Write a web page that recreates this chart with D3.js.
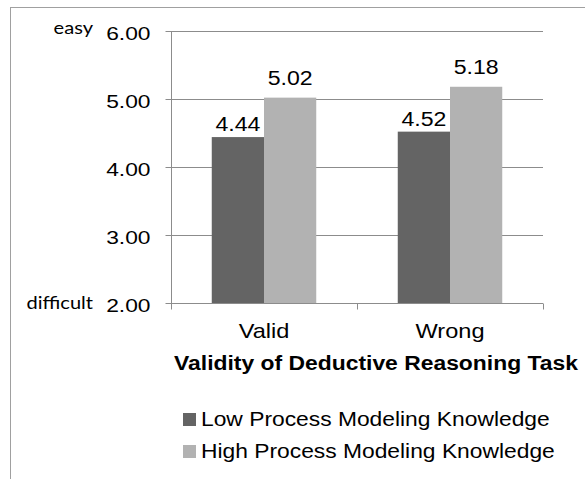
<!DOCTYPE html>
<html>
<head>
<meta charset="utf-8">
<script src="https://cdn.jsdelivr.net/npm/d3@7"></script>
<style>
  body { margin: 0; background: #fff; }
  text { font-family: "Liberation Sans", Arial, sans-serif; fill: #000; }
</style>
</head>
<body>
<script>
// data
var categories = ["Valid", "Wrong"];
var series = ["Low Process Modeling Knowledge", "High Process Modeling Knowledge"];
var lowValues = [4.44, 4.52];
var highValues = [5.02, 5.18];
var yTicks = [2, 3, 4, 5, 6];
var seriesColors = ["#646464", "#b2b2b2"];
var labelGap = [6, 13]; //value label distance above bar, per series

var width = 585, height = 479;
var svg = d3.select("body").append("svg")
    .attr("width", width)
    .attr("height", height);

//the source picture is a bit wider than tall, so text gets stretched sideways
function stretchText(sel, x, y, sx){
    return sel.attr("transform", "translate(" + x + "," + y + ") scale(" + sx + ",1)");
}

// outer chart frame (runs past the picture on right and bottom)
svg.append("rect")
    .attr("x", 10.5).attr("y", 7.5)
    .attr("width", 700).attr("height", 600)
    .attr("fill", "none")
    .attr("stroke", "#a0a0a0")
    .attr("stroke-width", 1);

var plotLeft = 171, plotRight = 543, plotTop = 31, plotBottom = 303;

var x = d3.scaleBand().domain(categories).range([plotLeft, plotRight]);
var y = d3.scaleLinear().domain([2, 6]).range([plotBottom, plotTop]);
var sub = d3.scaleBand().domain([0, 1]).range([0, x.bandwidth()]).paddingInner(0).paddingOuter(0.78);

// gridlines
svg.selectAll(".grid")
    .data(yTicks.filter(function(d){ return d > 2; }))
    .enter().append("line")
    .attr("class", "grid")
    .attr("x1", plotLeft).attr("x2", plotRight)
    .attr("y1", function(d){ return Math.round(y(d)) + 0.5; })
    .attr("y2", function(d){ return Math.round(y(d)) + 0.5; })
    .attr("stroke", "#8c8c8c");

// y axis
var yAxis = svg.append("g")
    .attr("transform", "translate(" + (plotLeft + 0.5) + ",0)")
    .call(d3.axisLeft(y).tickValues(yTicks).tickFormat(d3.format(".2f")).tickSize(6).offset(0.5));
yAxis.selectAll("line, path").attr("stroke", "#8c8c8c");
yAxis.select("path").attr("d", "M0," + plotTop + "V" + (plotBottom + 6));
yAxis.selectAll("text").remove();
yAxis.selectAll(".tick").append("text")
    .attr("text-anchor", "end")
    .style("font-size", "19px")
    .each(function(d){ stretchText(d3.select(this), -21, 8, 1.2); })
    .text(function(d){ return d3.format(".2f")(d); });

// bars
var barData = [];
categories.forEach(function(c, i){
    barData.push({cat: c, s: 0, v: lowValues[i]});
    barData.push({cat: c, s: 1, v: highValues[i]});
});
svg.selectAll(".bar")
    .data(barData)
    .enter().append("rect")
    .attr("class", "bar")
    .attr("x", function(d){ return x(d.cat) + sub(d.s); })
    .attr("width", sub.bandwidth())
    .attr("y", function(d){ return y(d.v); })
    .attr("height", function(d){ return y(2) - y(d.v); })
    .attr("fill", function(d){ return seriesColors[d.s]; });

svg.selectAll(".val")
    .data(barData)
    .enter().append("text")
    .attr("class", "val")
    .attr("text-anchor", "middle")
    .style("font-size", "21px")
    .each(function(d){
        stretchText(d3.select(this), x(d.cat) + sub(d.s) + sub.bandwidth() / 2, y(d.v) - labelGap[d.s], 1.1);
    })
    .text(function(d){ return d.v.toFixed(2); });

// x axis
var xAxis = svg.append("g")
    .attr("transform", "translate(0," + (plotBottom + 0.5) + ")");
xAxis.append("line").attr("x1", plotLeft).attr("x2", plotRight).attr("stroke", "#8c8c8c");
xAxis.selectAll(".tk")
    .data([plotLeft, x("Wrong"), plotRight])
    .enter().append("line")
    .attr("x1", function(d){ return d + 0.5; }).attr("x2", function(d){ return d + 0.5; })
    .attr("y1", 0).attr("y2", 6)
    .attr("stroke", "#8c8c8c");
svg.selectAll(".cat")
    .data(categories)
    .enter().append("text")
    .attr("class", "cat")
    .attr("text-anchor", "middle")
    .style("font-size", "20.5px")
    .each(function(d){ stretchText(d3.select(this), x(d) + x.bandwidth() / 2, 338, 1.15); })
    .text(function(d){ return d; });

stretchText(svg.append("text"), 376, 370, 1.09)
    .attr("text-anchor", "middle")
    .style("font-size", "21px").style("font-weight", "bold")
    .text("Validity of Deductive Reasoning Task");

// easy / difficult labels
stretchText(svg.append("text"), 93, 34, 1.18).attr("text-anchor", "end")
    .style("font-family", "Lato, 'Open Sans', sans-serif").style("font-size", "17px").text("easy");
stretchText(svg.append("text"), 93, 309, 1.18).attr("text-anchor", "end")
    .style("font-family", "Lato, 'Open Sans', sans-serif").style("font-size", "17px").text("difficult");

// legend
var legend = svg.selectAll(".leg")
    .data(series)
    .enter().append("g")
    .attr("class", "leg")
    .attr("transform", function(d, i){ return "translate(183," + (413 + i * 32) + ")"; });
legend.append("rect").attr("width", 13).attr("height", 13)
    .attr("fill", function(d, i){ return seriesColors[i]; });
legend.append("text")
    .style("font-size", "19.5px")
    .each(function(){ stretchText(d3.select(this), 18, 13, 1.17); })
    .text(function(d){ return d; });
</script>
</body>
</html>
